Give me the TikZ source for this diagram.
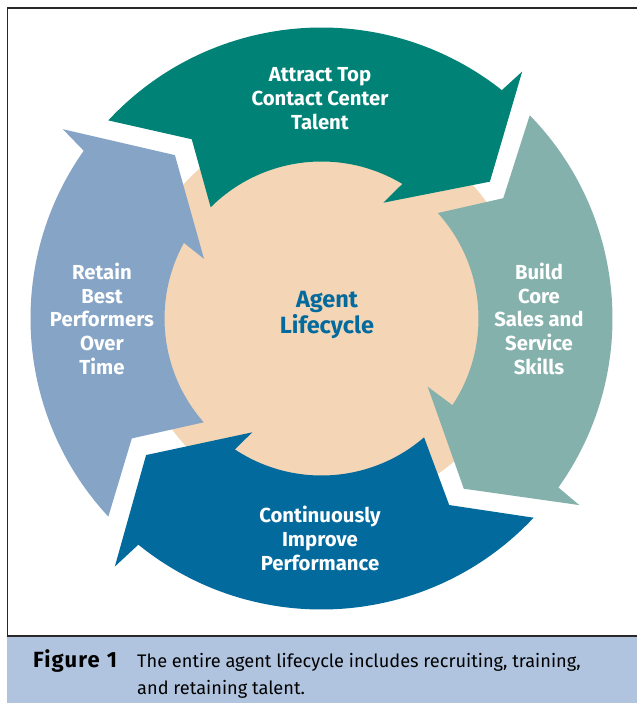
\documentclass[tikz,border=0pt]{standalone}
\usepackage{fontspec}
\setmainfont{Fira Sans}
\begin{document}
\definecolor{attractc}{RGB}{0,130,118}
\definecolor{buildc}{RGB}{133,177,173}
\definecolor{improvec}{RGB}{3,106,158}
\definecolor{retainc}{RGB}{134,164,198}
\definecolor{corec}{RGB}{244,214,182}
\definecolor{bandc}{RGB}{176,196,224}
\definecolor{framec}{RGB}{40,40,40}
\begin{tikzpicture}[x=1pt,y=1pt,
  stage/.style={font=\fontsize{20.3}{23.6}\selectfont\bfseries, text=white, align=center, anchor=base, inner sep=0pt},
  hub/.style={font=\fontsize{23.5}{26}\selectfont\bfseries, text=improvec, align=center, anchor=base, inner sep=0pt},
  caption/.style={font=\fontsize{18.2}{27}\selectfont, anchor=base west, align=left, inner sep=0pt}]
% page: origin at the centre of the ring
\useasboundingbox (-321.5,-386.5) rectangle (315.5,318.5);
\fill[white] (-321.5,-386.5) rectangle (315.5,318.5);
% caption band and frame
\fill[bandc] (-314,-317.5) rectangle (320,-384.5);
\draw[framec, line width=1.2pt] (320,310.5) -- (-314,310.5) -- (-314,-317.5) -- (320,-317.5);
% core disk
\fill[corec] (6.5,4.5) circle[radius=194];
% the four curved arrows, running clockwise
\fill[attractc] (137.1:291) -- (125.9:221.3) -- (134.9:157)
  arc[start angle=134.9, end angle=59.0, radius=157]
  -- (61.9:131.3) -- (39.1:217) -- (50.9:318.2) -- (51.7:291)
  arc[start angle=51.7, end angle=137.1, radius=291] -- cycle;
\fill[buildc] (44.3:291) -- (33.5:218) -- (42.2:157)
  arc[start angle=42.2, end angle=-33.5, radius=157]
  -- (-32.7:126.2) -- (-50.1:221.9) -- (-35.9:318.2) -- (-35.5:291)
  arc[start angle=-35.5, end angle=44.3, radius=291] -- cycle;
\fill[improvec] (-43.2:291) -- (-55.6:226.1) -- (-49.2:157)
  arc[start angle=-49.2, end angle=-123.5, radius=157]
  -- (-121.3:133.2) -- (-142.1:222.3) -- (-129.8:322.9) -- (-129.0:291)
  arc[start angle=-129.0, end angle=-43.2, radius=291] -- cycle;
\fill[retainc] (222.9:291) -- (212.3:224.4) -- (221.4:157)
  arc[start angle=221.4, end angle=151.2, radius=157]
  -- (153.1:131.7) -- (131.9:219.5) -- (143.8:320.5) -- (144.8:291)
  arc[start angle=144.8, end angle=222.9, radius=291] -- cycle;
% labels (anchored at the baseline of their last line)
\node[stage] (attract) at (-1.5,189.5) {Attract Top\\Contact Center\\Talent};
\node[stage] (build) at (217.5,-55.5) {Build\\Core\\Sales and\\Service\\Skills};
\node[stage] (improve) at (-1.5,-251.5) {Continuously\\Improve\\Performance};
\node[stage] (retain) at (-219.5,-55.5) {Retain\\Best\\Performers\\Over\\Time};
\node[hub] (hub) at (5.5,-14.5) {Agent\\Lifecycle};
\node[caption, font=\fontsize{22}{27}\selectfont\bfseries\addfontfeature{LetterSpace=5}] (fig) at (-288.5,-348.5) {Figure\hspace{7pt}1};
\node[caption] (captext) at (-184.5,-375.5) {The entire agent lifecycle includes recruiting, training,\\and retaining talent.};
\end{tikzpicture}
\end{document}
